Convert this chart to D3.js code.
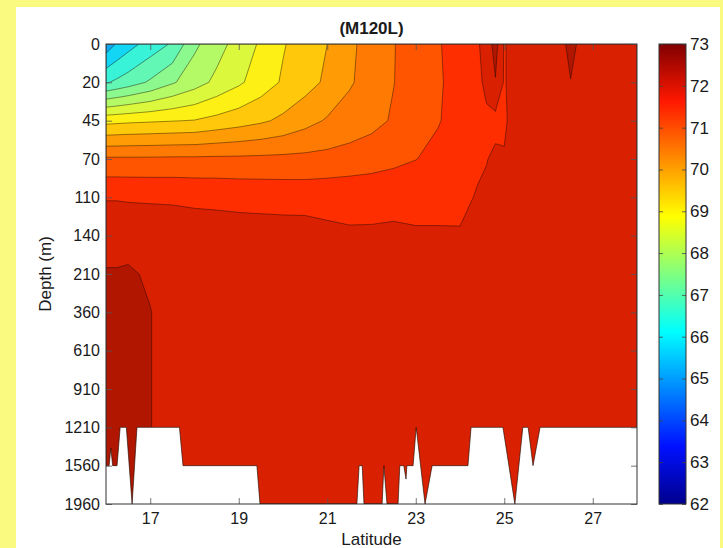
<!DOCTYPE html>
<html><head><meta charset="utf-8">
<script src="https://cdn.jsdelivr.net/npm/d3@7"></script>
<style>
body{margin:0;background:#fafa80;}
svg{display:block;}
text{font-family:"Liberation Sans",Arial,Helvetica,sans-serif;fill:#1a1a1a;}
</style></head>
<body><svg id="chart" width="723" height="548"></svg>
<script>
// ---------------- data ----------------
const title = "(M120L)";
const xLabel = "Latitude";
const yLabel = "Depth (m)";
const depthLabels = ["0","20","45","70","110","140","210","360","610","910","1210","1560","1960"];
const latTicks = [17, 19, 21, 23, 25, 27];
const cbTicks = [62, 63, 64, 65, 66, 67, 68, 69, 70, 71, 72, 73];
const levels = [65, 65.5, 66, 66.5, 67, 67.5, 68, 68.5, 69, 69.5, 70, 70.5, 71, 71.5, 72, 72.5, 73];

// station latitudes (columns of the section)
const lats = [16.0, 16.25, 16.5, 17.0, 17.5, 18.0, 18.5, 19.0, 19.5, 20.0, 20.5, 21.0, 21.5, 22.0, 22.5, 23.0, 23.5, 24.0, 24.4, 24.6, 24.8, 25.0, 25.2, 25.6, 26.0, 26.3, 26.5, 26.7, 27.0, 27.5, 28.0];

// temperature by depth level (one array per depth)
const t0m    = [65.7,66.05,66.3,66.71,67.06,67.9,68.3,68.7,69.07,69.46,69.74,70.0,70.39,70.71,70.98,71.22,71.46,71.7,71.95,72.2,72.7,71.95,72.2,72.2,72.2,72.35,72.7,72.4,72.2,72.2,72.2];
const t20m   = [66.95,67.1,67.25,67.57,67.94,68.28,68.62,68.92,69.24,69.56,69.81,70.09,70.44,70.72,70.99,71.22,71.44,71.68,71.9,72.1,72.47,71.95,72.2,72.2,72.2,72.2,72.48,72.2,72.2,72.2,72.2];
const t45m   = [69.34,69.37,69.4,69.44,69.48,69.52,69.65,69.78,69.92,70.1,70.33,70.55,70.72,70.86,71.05,71.25,71.47,71.68,71.85,71.92,71.85,71.9,72.2,72.2,72.2,72.2,72.25,72.2,72.2,72.2,72.2];
const t70m   = [71.08,71.08,71.08,71.08,71.09,71.09,71.1,71.1,71.11,71.12,71.13,71.15,71.2,71.27,71.37,71.49,71.62,71.76,71.9,71.98,72.1,72.05,72.2,72.2,72.2,72.2,72.2,72.2,72.2,72.2,72.2];
const t110m  = [71.98,71.98,71.97,71.96,71.95,71.92,71.9,71.87,71.85,71.83,71.82,71.85,71.87,71.88,71.9,71.86,71.86,71.85,72.05,72.1,72.15,72.15,72.2,72.2,72.2,72.2,72.2,72.2,72.2,72.2,72.2];
const t140m  = [72.2,72.2,72.2,72.2,72.2,72.2,72.2,72.2,72.2,72.2,72.2,72.1,72.05,72.05,72.06,72.05,72.05,72.05,72.15,72.2,72.2,72.2,72.2,72.2,72.2,72.2,72.2,72.2,72.2,72.2,72.2];
const t210m  = [72.56,72.56,72.6,72.4,72.2,72.2,72.2,72.2,72.2,72.2,72.2,72.2,72.2,72.2,72.2,72.2,72.2,72.2,72.2,72.2,72.2,72.2,72.2,72.2,72.2,72.2,72.2,72.2,72.2,72.2,72.2];
const t360m  = [72.8,72.8,72.8,72.52,72.2,72.2,72.2,72.2,72.2,72.2,72.2,72.2,72.2,72.2,72.2,72.2,72.2,72.2,72.2,72.2,72.2,72.2,72.2,72.2,72.2,72.2,72.2,72.2,72.2,72.2,72.2];
const t610m  = [72.8,72.8,72.8,72.52,72.2,72.2,72.2,72.2,72.2,72.2,72.2,72.2,72.2,72.2,72.2,72.2,72.2,72.2,72.2,72.2,72.2,72.2,72.2,72.2,72.2,72.2,72.2,72.2,72.2,72.2,72.2];
const t910m  = [72.8,72.8,72.8,72.52,72.2,72.2,72.2,72.2,72.2,72.2,72.2,72.2,72.2,72.2,72.2,72.2,72.2,72.2,72.2,72.2,72.2,72.2,72.2,72.2,72.2,72.2,72.2,72.2,72.2,72.2,72.2];
const t1210m = [72.8,72.8,72.8,72.52,72.2,72.2,72.2,72.2,72.2,72.2,72.2,72.2,72.2,72.2,72.2,72.2,72.2,72.2,72.2,72.2,72.2,72.2,72.2,72.2,72.2,72.2,72.2,72.2,72.2,72.2,72.2];
const t1560m = [72.8,72.8,72.8,72.52,72.2,72.2,72.2,72.2,72.2,72.2,72.2,72.2,72.2,72.2,72.2,72.2,72.2,72.2,72.2,72.2,72.2,72.2,72.2,72.2,72.2,72.2,72.2,72.2,72.2,72.2,72.2];
const t1960m = [72.8,72.8,72.8,72.52,72.2,72.2,72.2,72.2,72.2,72.2,72.2,72.2,72.2,72.2,72.2,72.2,72.2,72.2,72.2,72.2,72.2,72.2,72.2,72.2,72.2,72.2,72.2,72.2,72.2,72.2,72.2];

// sea-floor / deepest valid sample profile
const bottomLat   = [16.00,16.07,16.11,16.15,16.25,16.32,16.46,16.59,16.70,17.66,17.74,19.41,19.48,21.67,21.72,21.79,21.83,22.24,22.28,22.35,22.60,22.64,22.73,22.78,22.80,22.94,23.01,23.21,23.37,24.18,24.25,24.97,25.24,25.42,25.54,25.65,25.81,28.00];
const bottomDepth = [1560,1560,1400,1560,1560,1210,1210,1960,1210,1210,1560,1560,1960,1960,1560,1560,1960,1960,1560,1960,1960,1560,1560,1700,1560,1560,1210,1960,1560,1560,1210,1210,1960,1210,1210,1560,1210,1210];

// band fill colours (one per level)
const bandColors = ["#0a8ff0","#0faaf2","#12d6f4","#38f3d8","#62f7b4","#8cf98e","#b4fa66","#dcf83c","#fcf014","#ffc80a","#ff9c05","#ff7a02","#ff5500","#ff2e00","#d92000","#b01600","#8a0a00"];
const cbStops = [[0,"#00008c"],[0.125,"#0010ff"],[0.375,"#00ffff"],[0.5,"#80ff80"],[0.625,"#ffff00"],[0.875,"#ff1800"],[1,"#800000"]];

// ---------------- drawing ----------------
const svg = d3.select("#chart");
const P = {l:106, r:637, t:44, b:504};
const CB = {l:659, r:686};

svg.append("rect").attr("x",16).attr("y",7).attr("width",704).attr("height",548).attr("fill","#fff");

const depthValues = depthLabels.map(Number);
const rows = [t0m,t20m,t45m,t70m,t110m,t140m,t210m,t360m,t610m,t910m,t1210m,t1560m,t1960m];
const nx = lats.length, ny = rows.length;

const x = d3.scaleLinear().domain([16, 28]).range([P.l, P.r]);
const yPt = d3.scalePoint().domain(depthLabels).range([P.t, P.b]);
const yIdx = d3.scaleLinear().domain([0, ny-1]).range([P.t, P.b]);
const yDepth = d3.scaleLinear().domain(depthValues).range(depthLabels.map(d => yPt(d)));
const latOfIdx = d3.scaleLinear().domain(d3.range(nx)).range(lats);

const defs = svg.append("defs");
defs.append("clipPath").attr("id","clip").append("rect")
  .attr("x",P.l).attr("y",P.t).attr("width",P.r-P.l).attr("height",P.b-P.t);

const grid = rows.flat();
const contours = d3.contours().size([nx, ny]).thresholds(levels)(grid);
const proj = d3.geoTransform({point(px, py){
  const i = Math.max(0, Math.min(nx-1, px-0.5));
  const j = Math.max(0, Math.min(ny-1, py-0.5));
  this.stream.point(x(latOfIdx(i)), yIdx(j));
}});
const path = d3.geoPath(proj);

const gPlot = svg.append("g").attr("clip-path","url(#clip)");
gPlot.selectAll("path.band").data(contours).join("path")
  .attr("class","band")
  .attr("d", path)
  .attr("fill", (d,i) => bandColors[i])
  .attr("stroke", "rgba(20,10,0,0.55)")
  .attr("stroke-width", 0.8)
  .attr("stroke-linejoin","round");

// blank (no data) region below the sea floor
const bottom = bottomLat.map((l,i) => ({lat:l, depth:bottomDepth[i]}));
gPlot.append("path").datum(bottom)
  .attr("d", d3.area().x(d => x(d.lat)).y0(P.b+2).y1(d => yDepth(d.depth)))
  .attr("fill","#fff");
gPlot.append("path").datum(bottom)
  .attr("d", d3.line().x(d => x(d.lat)).y(d => yDepth(d.depth)))
  .attr("fill","none").attr("stroke","rgba(30,10,0,0.7)").attr("stroke-width",0.9);

// axes
const fs = 16;
const axB = svg.append("g").attr("transform",`translate(0,${P.b})`)
  .call(d3.axisBottom(x).tickValues(latTicks).tickSizeInner(-6).tickSizeOuter(0).tickPadding(9));
const axT = svg.append("g").attr("transform",`translate(0,${P.t})`)
  .call(d3.axisTop(x).tickValues(latTicks).tickSizeInner(-6).tickSizeOuter(0).tickFormat(""));
const axL = svg.append("g").attr("transform",`translate(${P.l},0)`)
  .call(d3.axisLeft(yPt).tickSizeInner(-6).tickSizeOuter(0).tickPadding(6));
const axR = svg.append("g").attr("transform",`translate(${P.r},0)`)
  .call(d3.axisRight(yPt).tickSizeInner(-6).tickSizeOuter(0).tickFormat(""));
[axB,axT,axL,axR].forEach(a => {
  a.select(".domain").remove();
  a.selectAll("line").attr("stroke","#555").attr("stroke-width",0.8);
  a.selectAll("text").attr("font-size",fs).attr("font-family",null).attr("fill","#1a1a1a");
});
svg.append("rect").attr("x",P.l).attr("y",P.t).attr("width",P.r-P.l).attr("height",P.b-P.t)
  .attr("fill","none").attr("stroke","#333").attr("stroke-width",1);

// colorbar
const grad = defs.append("linearGradient").attr("id","jet").attr("x1",0).attr("y1",1).attr("x2",0).attr("y2",0);
grad.selectAll("stop").data(cbStops).join("stop")
  .attr("offset", d => d[0]).attr("stop-color", d => d[1]);
const cy = d3.scaleLinear().domain([62,73]).range([P.b, P.t]);
svg.append("rect").attr("x",CB.l).attr("y",P.t).attr("width",CB.r-CB.l).attr("height",P.b-P.t)
  .attr("fill","url(#jet)");
const axC = svg.append("g").attr("transform",`translate(${CB.r},0)`)
  .call(d3.axisRight(cy).tickValues(cbTicks).tickSizeInner(-4).tickSizeOuter(0).tickPadding(4).tickFormat(d3.format("d")));
const axC2 = svg.append("g").attr("transform",`translate(${CB.l},0)`)
  .call(d3.axisLeft(cy).tickValues(cbTicks).tickSizeInner(-4).tickSizeOuter(0).tickFormat(""));
[axC,axC2].forEach(a => {
  a.select(".domain").remove();
  a.selectAll("line").attr("stroke","#444").attr("stroke-width",0.8);
  a.selectAll("text").attr("font-size",17).attr("font-family",null).attr("fill","#1a1a1a");
});
svg.append("rect").attr("x",CB.l).attr("y",P.t).attr("width",CB.r-CB.l).attr("height",P.b-P.t)
  .attr("fill","none").attr("stroke","#333").attr("stroke-width",1);

// titles
svg.append("text").attr("x",(P.l+P.r)/2).attr("y",34).attr("text-anchor","middle")
  .attr("font-size",17).attr("font-weight","bold").text(title);
svg.append("text").attr("x",(P.l+P.r)/2).attr("y",545).attr("text-anchor","middle")
  .attr("font-size",17).text(xLabel);
svg.append("text").attr("transform",`translate(51,${(P.t+P.b)/2}) rotate(-90)`).attr("text-anchor","middle")
  .attr("font-size",17).text(yLabel);
</script>
</body></html>
